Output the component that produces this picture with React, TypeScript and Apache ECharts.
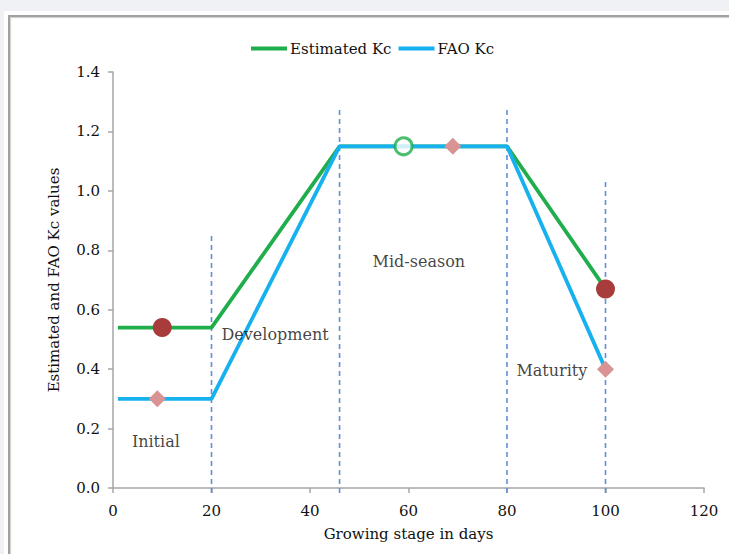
import React, { useEffect, useRef } from "react";
import * as echarts from "echarts";

// ---- data ----
const days = [1, 20, 46, 80, 100];
const estimatedKc = [0.54, 0.54, 1.15, 1.15, 0.67];
const faoKc = [0.3, 0.3, 1.15, 1.15, 0.4];

const stageBoundaries = [20, 46, 80, 100];
const boundaryTops = [0.86, 1.28, 1.28, 1.04];
const boundaryBottom = -0.017;

const estimatedPointDays = [10, 59, 100];
const estimatedPointKc = [0.54, 1.15, 0.67];
const estimatedPointHollow = [false, true, false];

const faoPointDays = [9, 69, 100];
const faoPointKc = [0.3, 1.15, 0.4];

const stageNames = ["Initial", "Development", "Mid-season", "Maturity"];
const stageLabelDays = [8.7, 32.9, 62.1, 89.1];
const stageLabelKc = [0.158, 0.518, 0.761, 0.394];

const xTicks = { min: 0, max: 120, interval: 20 };
const yTicks = { min: 0, max: 1.4, interval: 0.2 };

const GREEN = "#1fae4b";
const BLUE = "#17b1ef";
const DARKRED = "#a83c3c";
const PINK = "#d99393";
const DASH = "#5e90d8";
const FONT = "DejaVu Serif";
const TEXT = "#111111";

export default function App() {
  const ref = useRef<HTMLDivElement>(null);

  useEffect(() => {
    if (!ref.current) return;
    const chart = echarts.init(ref.current, null, { renderer: "svg" });

    const axisLine = { show: true, lineStyle: { color: "#a6a6a6", width: 1.5 } };
    const axisTick = { show: true, inside: false, length: 5, lineStyle: { color: "#a6a6a6", width: 1.5 } };

    const boundarySeries = stageBoundaries.map((d, i) => ({
      name: "boundary " + d,
      type: "line",
      silent: true,
      clip: false,
      showSymbol: false,
      symbol: "none",
      z: 1,
      lineStyle: { color: DASH, width: 1.6, type: [5, 4] },
      data: [
        [d, boundaryBottom],
        [d, boundaryTops[i]],
      ],
    }));

    chart.setOption({
      animation: false,
      backgroundColor: "transparent",
      grid: { left: 113, right: 25, top: 72, bottom: 66, containLabel: false },
      legend: {
        data: ["Estimated Kc", "FAO Kc"],
        left: 246,
        top: 36,
        icon: "rect",
        itemWidth: 36,
        itemHeight: 4,
        itemGap: 7,
        textStyle: { fontFamily: FONT, fontSize: 15, color: TEXT, padding: [0, 0, 0, -2] },
      },
      xAxis: {
        type: "value",
        min: xTicks.min,
        max: xTicks.max,
        interval: xTicks.interval,
        name: "Growing stage in days",
        nameLocation: "middle",
        nameGap: 38,
        nameTextStyle: { fontFamily: FONT, fontSize: 15, color: TEXT },
        axisLine,
        axisTick,
        splitLine: { show: false },
        axisLabel: { fontFamily: FONT, fontSize: 15, color: TEXT, margin: 15 },
      },
      yAxis: {
        type: "value",
        min: yTicks.min,
        max: yTicks.max,
        interval: yTicks.interval,
        name: "Estimated and FAO Kc values",
        nameLocation: "middle",
        nameGap: 52,
        nameTextStyle: { fontFamily: FONT, fontSize: 15, color: TEXT },
        axisLine,
        axisTick,
        splitLine: { show: false },
        axisLabel: {
          fontFamily: FONT,
          fontSize: 15,
          color: TEXT,
          margin: 13,
          formatter: (v: number) => v.toFixed(1),
        },
      },
      series: [
        ...boundarySeries,
        {
          name: "Estimated Kc",
          type: "line",
          data: days.map((d, i) => [d, estimatedKc[i]]),
          showSymbol: false,
          symbol: "none",
          color: GREEN,
          lineStyle: { color: GREEN, width: 3.8 },
          z: 3,
        },
        {
          name: "FAO Kc",
          type: "line",
          data: days.map((d, i) => [d, faoKc[i]]),
          showSymbol: false,
          symbol: "none",
          color: BLUE,
          lineStyle: { color: BLUE, width: 3.8 },
          z: 4,
        },
        {
          name: "estimated points",
          type: "scatter",
          z: 5,
          data: estimatedPointDays.map((d, i) => ({
            value: [d, estimatedPointKc[i]],
            symbol: "circle",
            symbolSize: estimatedPointHollow[i] ? 17 : 19,
            itemStyle: estimatedPointHollow[i]
              ? { color: "#ffffff", borderColor: GREEN, borderWidth: 3 }
              : { color: DARKRED, opacity: 1 },
          })),
        },
        {
          name: "fao points",
          type: "scatter",
          z: 5,
          symbol: "diamond",
          symbolSize: 17,
          itemStyle: { color: PINK, opacity: 1 },
          data: faoPointDays.map((d, i) => [d, faoPointKc[i]]),
        },
        {
          name: "stage labels",
          type: "scatter",
          z: 6,
          symbolSize: 1,
          itemStyle: { color: "rgba(0,0,0,0)" },
          label: {
            show: true,
            position: "inside",
            formatter: (p: any) => p.name,
            fontFamily: FONT,
            fontSize: 16,
            color: TEXT,
          },
          data: stageNames.map((n, i) => ({ name: n, value: [stageLabelDays[i], stageLabelKc[i]] })),
        },
      ],
    });

    return () => chart.dispose();
  }, []);

  return (
    <div
      style={{
        position: "fixed",
        left: 0,
        top: 0,
        width: 729,
        height: 554,
        background: "#eff1f4",
        overflow: "hidden",
      }}
    >
      <div style={{ position: "absolute", left: 4, top: 11, width: 800, height: 600, background: "#ffffff" }} />
      <div
        style={{
          position: "absolute",
          left: 8,
          top: 15,
          width: 800,
          height: 600,
          borderLeft: "2px solid #a0a0a0",
          borderTop: "2px solid #a0a0a0",
          boxShadow: "inset 1px 1px 1px #d0d0d0",
        }}
      />
      <div ref={ref} style={{ position: "absolute", left: 0, top: 0, width: 729, height: 554 }} />
    </div>
  );
}
